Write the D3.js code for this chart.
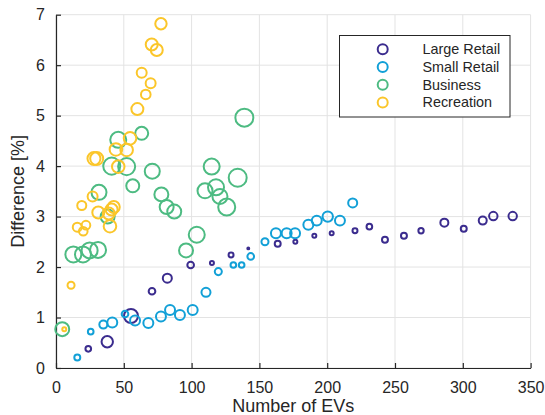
<!DOCTYPE html>
<html>
<head>
<meta charset="utf-8">
<script src="https://cdn.jsdelivr.net/npm/d3@7"></script>
<style>
  html, body { margin: 0; padding: 0; background: #fff; }
  svg { display: block; font-family: "Liberation Sans", Arial, Helvetica, sans-serif; }
</style>
</head>
<body>
<svg id="chart" width="545" height="415"></svg>
<script>
// Series names, in drawing / legend order
const categories = ["Large Retail", "Small Retail", "Business", "Recreation"];

// Number of EVs per site
const largeRetailEVs = [23.8, 37.8, 55.3, 70.8, 82.1, 99.3, 115.0, 129.1, 141.8, 163.5, 176.5, 190.5, 203.3, 220.5, 231.1, 242.6, 256.6, 269.2, 286.4, 300.7, 314.7, 322.5, 336.8];
const smallRetailEVs = [15.7, 25.6, 34.9, 41.5, 50.9, 58.3, 68.1, 77.4, 84.1, 91.4, 100.8, 110.6, 119.7, 130.8, 136.9, 143.6, 154.1, 162.2, 170.1, 176.3, 186.1, 192.3, 200.4, 209.4, 218.8];
const businessEVs = [4.6, 12.8, 19.9, 24.8, 31.0, 31.7, 38.1, 41.1, 45.9, 52.1, 56.6, 63.2, 71.0, 77.7, 81.6, 87.2, 95.9, 103.8, 109.9, 114.8, 118.0, 120.9, 125.9, 134.0, 138.9];
const recreationEVs = [6.1, 11.1, 15.7, 20.1, 22.1, 19.0, 27.0, 28.0, 30.0, 31.2, 38.9, 41.0, 42.6, 39.8, 44.2, 45.9, 52.1, 54.6, 60.0, 66.2, 69.8, 63.2, 70.6, 74.3, 77.4];

// Difference [%]
const largeRetailDiff = [0.38, 0.52, 1.03, 1.52, 1.78, 2.04, 2.08, 2.24, 2.37, 2.46, 2.50, 2.62, 2.67, 2.72, 2.80, 2.54, 2.62, 2.72, 2.88, 2.76, 2.92, 3.01, 3.01];
const smallRetailDiff = [0.21, 0.72, 0.86, 0.90, 1.07, 0.94, 0.89, 1.02, 1.15, 1.05, 1.15, 1.50, 1.91, 2.04, 2.04, 2.21, 2.50, 2.67, 2.67, 2.67, 2.84, 2.92, 3.00, 2.92, 3.27];
const businessDiff = [0.77, 2.25, 2.25, 2.33, 2.34, 3.48, 3.00, 4.00, 4.52, 3.99, 3.61, 4.65, 3.90, 3.44, 3.19, 3.10, 2.33, 2.64, 3.51, 3.99, 3.58, 3.40, 3.19, 3.77, 4.96];
const recreationDiff = [0.77, 1.64, 2.79, 2.71, 2.83, 3.22, 3.40, 4.15, 4.15, 3.08, 3.06, 3.14, 3.19, 2.81, 4.33, 3.99, 4.32, 4.55, 5.13, 5.42, 5.64, 5.85, 6.41, 6.30, 6.82];

// Bubble weight (scatter size value) per site
const largeRetailWeight = [18, 73, 110, 25, 46, 25, 9, 14, 2, 20, 9, 9, 9, 14, 18, 20, 20, 16, 36, 20, 36, 40, 40];
const smallRetailWeight = [20, 18, 36, 56, 25, 56, 56, 56, 56, 56, 56, 46, 28, 18, 18, 25, 28, 56, 56, 56, 56, 56, 61, 56, 46];
const businessWeight = [110, 144, 144, 144, 144, 127, 110, 163, 144, 163, 95, 95, 127, 110, 110, 110, 110, 144, 127, 144, 144, 127, 163, 182, 182];
const recreationWeight = [9, 28, 46, 42, 42, 46, 56, 95, 95, 81, 81, 81, 81, 89, 89, 89, 89, 89, 81, 52, 56, 56, 81, 81, 73];

// Axis ticks
const xTicks = [0, 50, 100, 150, 200, 250, 300, 350];
const yTicks = [0, 1, 2, 3, 4, 5, 6, 7];

const seriesEVs = [largeRetailEVs, smallRetailEVs, businessEVs, recreationEVs];
const seriesDiff = [largeRetailDiff, smallRetailDiff, businessDiff, recreationDiff];
const seriesWeight = [largeRetailWeight, smallRetailWeight, businessWeight, recreationWeight];
const colors = ["#3b2c8e", "#12a0d7", "#4dbb82", "#fbc62a"];

const svg = d3.select("#chart");
const margin = { left: 56, right: 14.4, top: 14.7, bottom: 47 };
const W = 545, H = 415;

const x = d3.scaleLinear().domain([0, 350]).range([margin.left, W - margin.right]);
const y = d3.scaleLinear().domain([0, 7]).range([H - margin.bottom, margin.top]);
const r = d3.scaleSqrt().domain([0, 225]).range([0, 10]);

const axisColor = "#262626";
const gridColor = "#e3e3e3";

// Grid lines
const grid = svg.append("g");
grid.selectAll("line.gx").data(xTicks).join("line")
  .attr("x1", d => x(d)).attr("x2", d => x(d))
  .attr("y1", y(0)).attr("y2", y(7))
  .attr("stroke", gridColor).attr("stroke-width", 1);
grid.selectAll("line.gy").data(yTicks).join("line")
  .attr("x1", x(0)).attr("x2", x(350))
  .attr("y1", d => y(d)).attr("y2", d => y(d))
  .attr("stroke", gridColor).attr("stroke-width", 1);

// Axes with inward ticks
const xAxis = d3.axisBottom(x).tickValues(xTicks).tickFormat(d3.format("d"))
  .tickSizeInner(-5).tickSizeOuter(0).tickPadding(10);
const yAxis = d3.axisLeft(y).tickValues(yTicks).tickFormat(d3.format("d"))
  .tickSizeInner(-5).tickSizeOuter(0).tickPadding(11);

const gx = svg.append("g").attr("transform", `translate(0,${y(0)})`).call(xAxis);
const gy = svg.append("g").attr("transform", `translate(${x(0)},0)`).call(yAxis);
[gx, gy].forEach(g => {
  g.select(".domain").attr("stroke", axisColor).attr("stroke-width", 1.2);
  g.selectAll(".tick line").attr("stroke", axisColor).attr("stroke-width", 1.2);
  g.selectAll(".tick text").attr("fill", axisColor).attr("font-size", 16)
    .attr("font-family", "Liberation Sans, Arial, sans-serif");
});
gx.selectAll(".tick text").attr("dy", "0.95em");

// Axis titles
svg.append("text")
  .attr("x", (x(0) + x(350)) / 2).attr("y", 412)
  .attr("text-anchor", "middle").attr("font-size", 18).attr("fill", axisColor)
  .text("Number of EVs");
svg.append("text")
  .attr("transform", `translate(24,${(y(0) + y(7)) / 2}) rotate(-90)`)
  .attr("text-anchor", "middle").attr("font-size", 18).attr("fill", axisColor)
  .text("Difference [%]");

// Bubbles
const marks = svg.append("g");
categories.forEach((name, i) => {
  const pts = seriesEVs[i].map((ev, j) => ({ ev, diff: seriesDiff[i][j], w: seriesWeight[i][j] }));
  marks.append("g").selectAll("circle").data(pts).join("circle")
    .attr("cx", d => x(d.ev))
    .attr("cy", d => y(d.diff))
    .attr("r", d => r(d.w))
    .attr("fill", "none")
    .attr("stroke", colors[i])
    .attr("stroke-width", 2);
});

// Legend
const lg = svg.append("g");
lg.append("rect")
  .attr("x", 339.5).attr("y", 35.5).attr("width", 170.5).attr("height", 81.5)
  .attr("fill", "#fff").attr("stroke", axisColor).attr("stroke-width", 1);
categories.forEach((name, i) => {
  const cy = 49.3 + i * 17.7;
  lg.append("circle").attr("cx", 382.7).attr("cy", cy).attr("r", 5)
    .attr("fill", "none").attr("stroke", colors[i]).attr("stroke-width", 2);
  lg.append("text").attr("x", 422.5).attr("y", cy).attr("dy", "0.35em")
    .attr("font-size", 14.4).attr("fill", axisColor).text(name);
});
</script>
</body>
</html>
